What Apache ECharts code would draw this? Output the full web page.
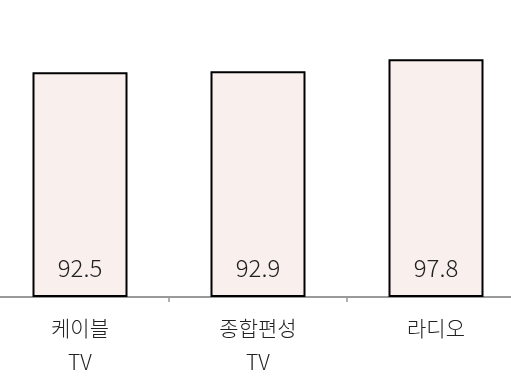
<!DOCTYPE html>
<html><head><meta charset="utf-8">
<script src="https://cdn.jsdelivr.net/npm/echarts@6/dist/echarts.min.js"></script>
<style>html,body{margin:0;padding:0;background:#fff;overflow:hidden;width:511px;height:389px}#c{width:534px;height:389px;margin-left:-9px}</style>
</head><body><div id="c"></div>
<script>
const categories = ['케이블\nTV', '종합편성\nTV', '라디오'];
const values = [92.5, 92.9, 97.8];

const chart = echarts.init(document.getElementById('c'), null, {renderer: 'canvas'});
chart.setOption({
  animation: false,
  grid: {left: 0, right: 0, top: 54, bottom: 92, containLabel: false},
  xAxis: {
    type: 'category', data: categories,
    axisLine: {lineStyle: {color: '#999', width: 2}},
    axisTick: {show: true, length: 5, lineStyle: {color: '#999', width: 1.5}},
    axisLabel: {fontFamily: 'Noto Sans CJK KR', fontWeight: 300, fontSize: 21, color: '#222', lineHeight: 34, margin: 14}
  },
  yAxis: {type: 'value', min: 0, max: 100, show: false, splitLine: {show: false}},
  series: [{
    type: 'bar', data: values, barWidth: 95,
    itemStyle: {color: '#f9f0ee', borderColor: '#000', borderWidth: 2},
    label: {show: true, position: 'insideBottom', distance: 17, fontFamily: 'Noto Sans CJK KR', fontWeight: 300, fontSize: 24, color: '#222'}
  }]
});
</script></body></html>
